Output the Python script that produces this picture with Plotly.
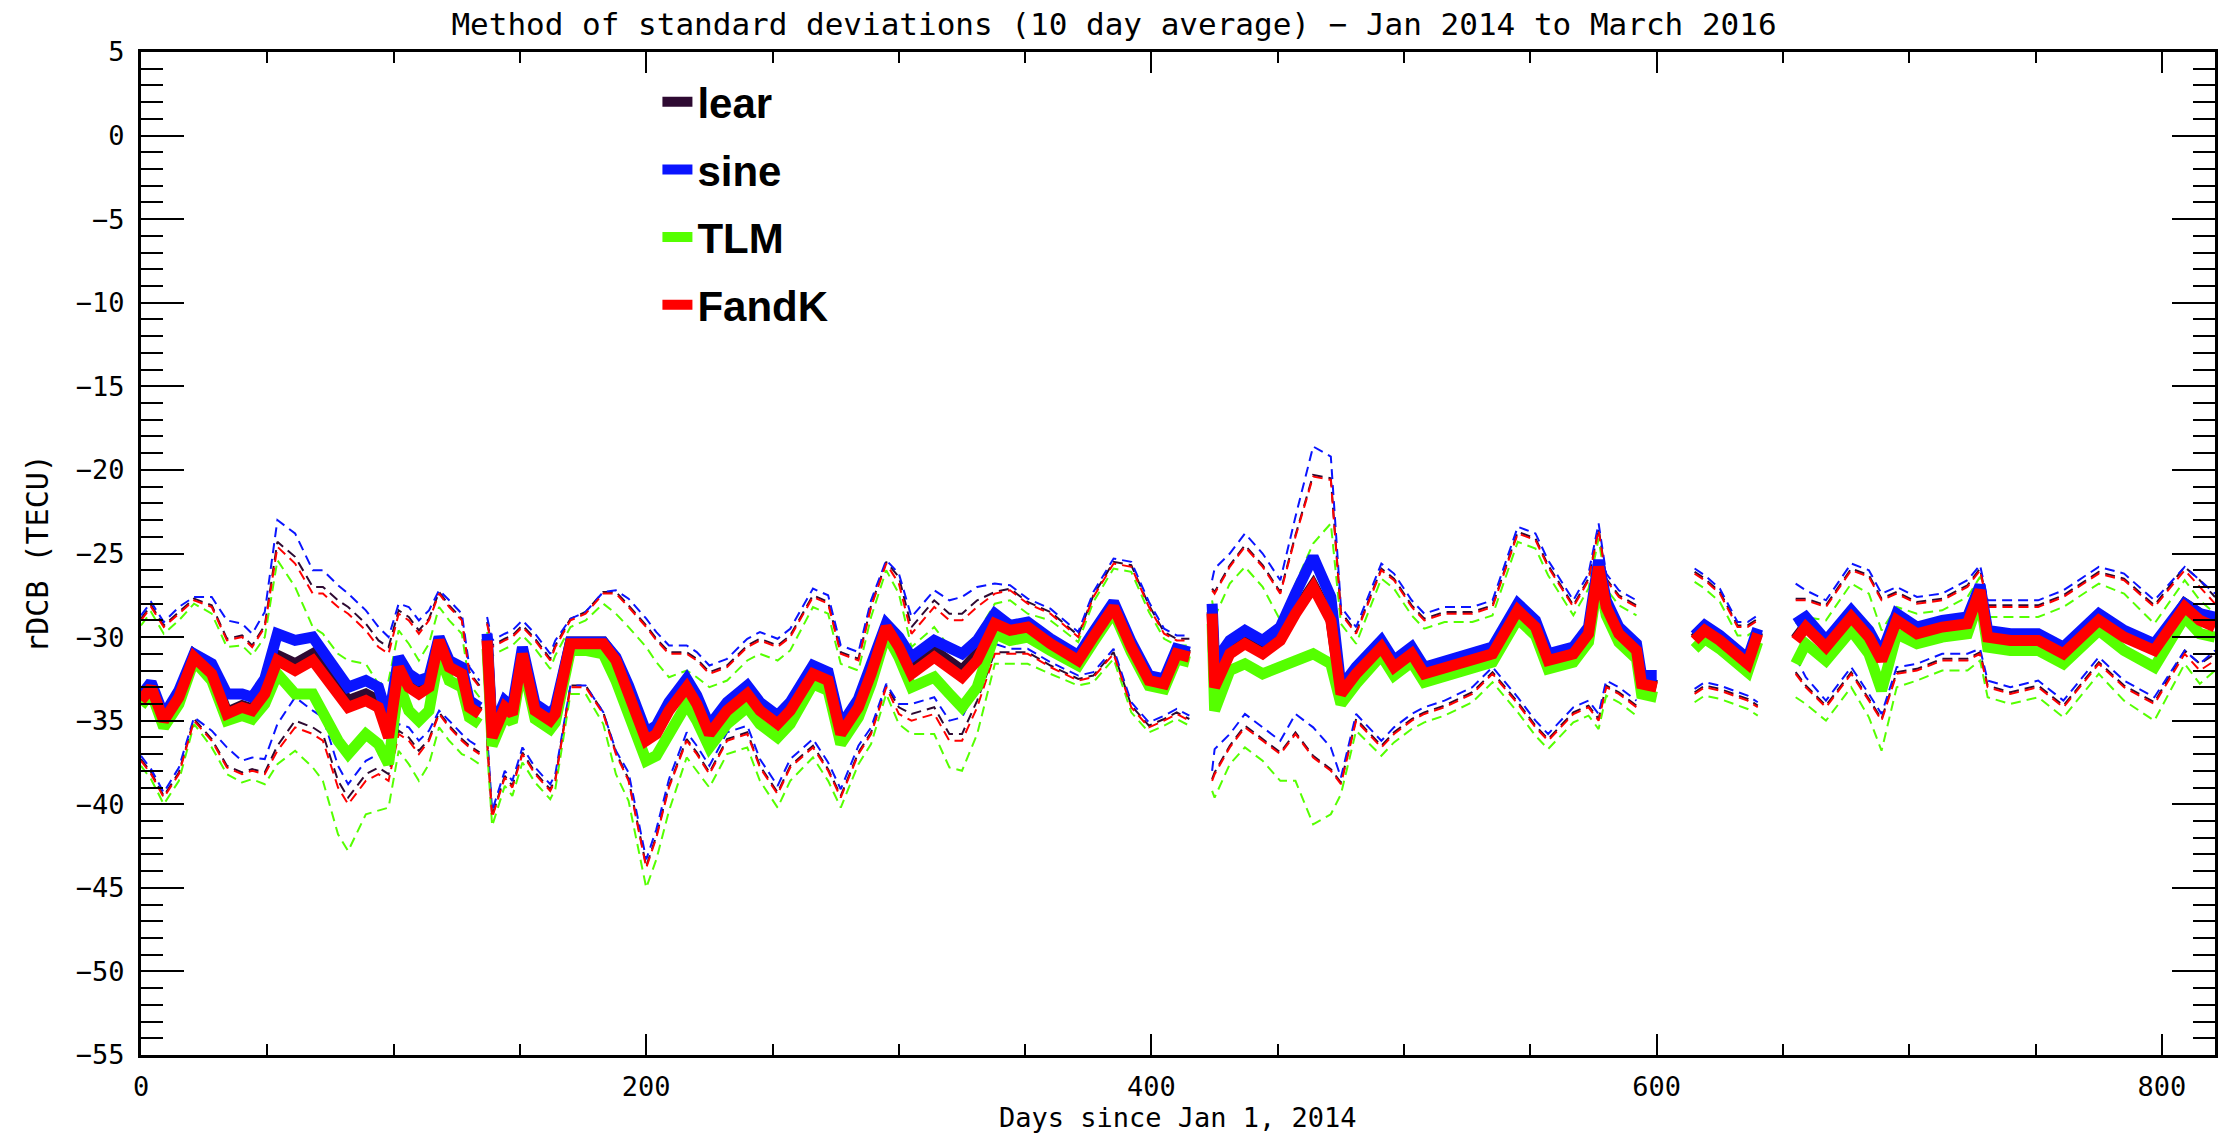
import plotly.graph_objects as go

G = None  # data gap

# Days since Jan 1, 2014 (G-rows mark gaps in the record)
days = [
    0, 4, 9, 15, 21, 28, 34, 40,
    44, 49, 54, 61, 68, 72, 78, 82,
    89, 94, 98, 102, 106, 110, 114, 118,
    122, 127, 130, 134,
    135.5,
    137, 139, 144, 147, 151, 156, 162, 164,
    170, 176, 183, 188, 193, 200, 204, 209,
    216, 220, 225, 232, 240, 245, 252, 257,
    266, 272, 277, 284, 289, 295, 300, 305,
    314, 320, 325, 331, 338, 344, 351, 360,
    371, 377, 385, 392, 399, 405, 410, 415,
    419.5,
    424, 425, 431, 437, 444, 451, 457, 464,
    471, 475, 481, 491, 496, 503, 508, 516,
    527, 535, 545, 552, 557, 567, 573, 577,
    580, 585, 592, 594, 600,
    607,
    615, 619, 625, 632, 636, 640,
    647,
    655, 659, 667, 677, 684, 689, 695, 703,
    713, 723, 728, 731, 740, 751, 761, 775,
    785, 797, 809, 815, 821,
]

fandk = [
    -33.8, -33.0, -35.0, -33.6, -31.2, -32.2, -34.6, -34.2,
    -34.4, -33.4, -31.4, -32.0, -31.4, -32.2, -33.4, -34.2,
    -33.8, -34.2, -36.0, -31.8, -33.0, -33.4, -33.0, -30.2,
    -31.8, -32.2, -34.2, -34.6,
    G,
    -30.2, -36.0, -34.2, -34.6, -31.0, -34.4, -35.0, -34.6,
    -30.4, -30.4, -30.4, -31.4, -33.4, -36.2, -35.8, -34.4,
    -33.0, -34.0, -35.8, -34.4, -33.4, -34.4, -35.2, -34.4,
    -32.2, -32.6, -35.8, -34.2, -32.2, -29.4, -30.6, -32.2,
    -31.2, -31.8, -32.4, -31.4, -29.2, -29.6, -29.4, -30.4,
    -31.4, -30.0, -28.2, -30.6, -32.6, -32.8, -31.0, -31.2,
    G,
    -28.6, -33.0, -31.0, -30.4, -31.0, -30.2, -28.6, -27.0,
    -29.0, -33.4, -32.2, -30.6, -31.8, -31.0, -32.2, -31.8,
    -31.4, -31.0, -28.4, -29.4, -31.4, -31.0, -29.8, -25.8,
    -28.2, -29.8, -30.8, -32.8, -33.0,
    G,
    -30.2, -29.6, -30.2, -31.2, -31.6, -29.8,
    G,
    -30.2, -29.4, -30.6, -28.8, -30.0, -31.4, -29.0, -29.8,
    -29.4, -29.2, -27.2, -30.0, -30.2, -30.2, -31.0, -29.0,
    -30.0, -30.8, -28.2, -29.0, -29.4,
]

sine = [
    -33.5, -32.7, -34.7, -33.2, -31.0, -31.6, -33.4, -33.4,
    -33.6, -32.5, -29.8, -30.2, -30.0, -30.8, -32.1, -33.0,
    -32.6, -33.0, -35.0, -31.2, -32.2, -32.6, -32.4, -30.0,
    -31.4, -31.8, -33.8, -34.2,
    G,
    -29.8, -35.6, -33.8, -34.2, -30.6, -34.0, -34.6, -34.2,
    -30.3, -30.3, -30.3, -31.2, -32.9, -35.7, -35.3, -33.9,
    -32.5, -33.5, -35.3, -33.9, -32.9, -33.9, -34.7, -33.9,
    -31.7, -32.1, -35.3, -33.7, -31.8, -29.2, -30.0, -31.2,
    -30.2, -30.6, -31.0, -30.2, -28.6, -29.3, -29.1, -30.1,
    -31.1, -29.7, -27.9, -30.3, -32.3, -32.5, -30.7, -30.9,
    G,
    -28.0, -31.5, -30.2, -29.6, -30.2, -29.4, -27.4, -25.2,
    -27.6, -33.0, -31.8, -30.2, -31.4, -30.6, -31.8, -31.4,
    -31.0, -30.6, -28.0, -29.0, -31.0, -30.6, -29.4, -25.4,
    -27.8, -29.4, -30.4, -32.3, -32.3,
    G,
    -29.9, -29.3, -29.9, -30.9, -31.3, -29.5,
    G,
    -29.2, -28.8, -30.2, -28.4, -29.6, -31.0, -28.6, -29.4,
    -29.0, -28.8, -26.9, -29.6, -29.8, -29.8, -30.6, -28.6,
    -29.6, -30.4, -28.0, -28.6, -28.8,
]

tlm = [
    -34.1, -33.3, -35.4, -34.0, -31.4, -32.6, -35.0, -34.7,
    -34.9, -34.0, -32.2, -33.4, -33.4, -34.6, -36.2, -37.0,
    -35.8, -36.4, -37.6, -32.8, -34.4, -35.0, -34.4, -31.0,
    -32.6, -33.0, -34.8, -35.2,
    G,
    -30.7, -36.5, -34.7, -35.1, -31.5, -34.9, -35.5, -35.1,
    -30.8, -30.8, -31.0, -32.6, -34.6, -37.4, -37.1, -35.8,
    -34.0, -35.0, -36.6, -35.2, -34.2, -35.2, -36.0, -35.2,
    -32.8, -33.2, -36.4, -34.8, -32.8, -29.8, -31.2, -33.0,
    -32.4, -33.4, -34.2, -33.0, -29.8, -30.2, -30.0, -30.8,
    -31.7, -30.3, -28.5, -30.9, -32.9, -33.1, -31.3, -31.5,
    G,
    -29.2, -34.4, -32.0, -31.6, -32.2, -31.8, -31.4, -31.0,
    -31.6, -34.0, -32.8, -31.1, -32.3, -31.5, -32.7, -32.3,
    -31.9, -31.5, -28.9, -29.9, -31.9, -31.5, -30.3, -26.3,
    -28.7, -30.3, -31.3, -33.4, -33.6,
    G,
    -30.7, -30.1, -30.7, -31.7, -32.1, -30.3,
    G,
    -31.6, -30.4, -31.4, -29.6, -31.0, -33.2, -29.8, -30.4,
    -30.0, -29.8, -27.6, -30.6, -30.8, -30.8, -31.6, -29.6,
    -30.8, -31.8, -28.8, -29.8, -30.0,
]

lear = [
    -33.7, -32.9, -34.9, -33.5, -31.1, -32.1, -34.5, -34.1,
    -34.3, -33.3, -31.1, -31.6, -31.0, -31.8, -33.0, -33.8,
    -33.4, -33.8, -35.6, -31.6, -32.8, -33.2, -32.9, -30.1,
    -31.7, -32.1, -34.1, -34.5,
    G,
    -30.1, -35.9, -34.1, -34.5, -30.9, -34.3, -34.9, -34.5,
    -30.3, -30.3, -30.3, -31.3, -33.3, -36.1, -35.7, -34.3,
    -32.9, -33.9, -35.7, -34.3, -33.3, -34.3, -35.1, -34.3,
    -32.1, -32.5, -35.7, -34.1, -32.1, -29.3, -30.2, -31.8,
    -30.8, -31.4, -32.0, -31.0, -29.1, -29.5, -29.3, -30.3,
    -31.3, -29.9, -28.1, -30.5, -32.5, -32.7, -30.9, -31.1,
    G,
    -28.5, -32.9, -30.9, -30.3, -30.9, -30.1, -28.5, -26.9,
    -28.9, -33.3, -32.1, -30.5, -31.7, -30.9, -32.1, -31.7,
    -31.3, -30.9, -28.3, -29.3, -31.3, -30.9, -29.7, -25.7,
    -28.1, -29.7, -30.7, -32.7, -32.9,
    G,
    -30.1, -29.5, -30.1, -31.1, -31.5, -29.7,
    G,
    -30.1, -29.3, -30.5, -28.7, -29.9, -31.3, -28.9, -29.7,
    -29.3, -29.1, -27.1, -29.9, -30.1, -30.1, -30.9, -28.9,
    -29.9, -30.7, -28.0, -28.6, -29.0,
]

# standard deviation above / below the 10-day mean
sd_hi = [
    4.8, 4.8, 5.6, 5.0, 3.4, 4.0, 4.4, 4.2,
    3.8, 4.0, 6.8, 6.4, 4.0, 4.8, 5.2, 5.6,
    4.2, 3.6, 5.0, 3.2, 4.0, 3.6, 4.0, 2.8,
    3.6, 3.2, 2.0, 1.6,
    G,
    1.0, 5.4, 4.0, 4.6, 1.6, 4.2, 3.6, 4.0,
    1.4, 1.8, 3.0, 4.0, 5.2, 6.8, 5.6, 3.4,
    2.0, 2.6, 3.6, 2.6, 2.8, 4.2, 4.6, 4.4,
    4.6, 4.6, 4.8, 2.8, 4.0, 3.8, 3.8, 2.4,
    3.0, 2.8, 3.4, 3.2, 1.8, 2.4, 1.4, 1.8,
    1.4, 2.4, 2.6, 4.8, 4.4, 3.0, 0.8, 1.0,
    G,
    1.4, 5.6, 5.2, 5.8, 5.2, 2.8, 4.6, 6.6,
    8.4, 4.8, 2.4, 4.6, 5.2, 2.8, 3.2, 3.2,
    2.8, 2.8, 4.6, 5.2, 5.6, 2.8, 3.2, 2.2,
    1.6, 2.2, 2.6, G, G,
    G,
    4.0, 3.0, 2.8, 1.8, 2.2, 0.8,
    G,
    2.4, 1.6, 2.4, 2.8, 3.6, 3.6, 1.6, 1.8,
    1.6, 2.2, 1.2, 1.8, 2.0, 2.0, 3.4, 2.8,
    3.4, 2.6, 2.2, 2.0, 1.4,
]

sd_lo = [
    3.6, 5.2, 4.6, 4.6, 3.8, 4.0, 3.2, 4.0,
    3.6, 4.8, 5.4, 3.4, 4.4, 4.0, 5.6, 5.8,
    4.8, 4.0, 2.6, 4.0, 3.2, 3.6, 3.2, 4.4,
    3.6, 4.0, 2.4, 2.4,
    G,
    6.0, 4.8, 4.2, 4.4, 6.0, 3.8, 4.2, 4.0,
    2.6, 2.6, 4.2, 5.6, 5.2, 7.6, 6.2, 4.6,
    3.2, 3.0, 2.4, 1.8, 2.4, 3.4, 4.2, 3.4,
    4.4, 5.4, 3.8, 2.8, 3.6, 3.6, 4.0, 2.8,
    3.4, 4.4, 3.8, 2.8, 1.8, 1.4, 1.6, 1.4,
    1.2, 2.4, 2.8, 3.6, 2.8, 2.2, 3.6, 3.8,
    G,
    10.0, 5.2, 5.6, 5.0, 5.2, 6.8, 7.2, 10.2,
    9.0, 5.4, 2.8, 6.0, 4.0, 4.0, 2.4, 2.4,
    2.0, 1.2, 5.6, 6.0, 4.8, 3.6, 4.4, 9.2,
    4.8, 3.6, 3.4, G, G,
    G,
    3.2, 3.4, 3.0, 2.4, 2.2, 4.4,
    G,
    2.0, 3.6, 3.6, 3.4, 3.8, 3.6, 3.2, 2.2,
    2.0, 2.2, 3.8, 3.0, 3.2, 2.8, 3.2, 2.6,
    3.0, 3.2, 2.8, 3.0, 2.0,
]

for arr in (fandk, sine, tlm, lear, sd_hi, sd_lo):
    assert len(arr) == len(days), len(arr)


def band(mean, sd, sign):
    return [None if (m is None or s is None) else round(m + sign * s, 2)
            for m, s in zip(mean, sd)]


methods = [
    ("lear", lear, "#2e0a32"),
    ("sine", sine, "#0a14ff"),
    ("TLM", tlm, "#55ff00"),
    ("FandK", fandk, "#ff0000"),
]

fig = go.Figure()
# dashed +/- standard deviation curves
for name, mean, color in methods:
    for sd, sgn in ((sd_hi, 1), (sd_lo, -1)):
        fig.add_trace(go.Scatter(
            x=days, y=band(mean, sd, sgn), mode="lines",
            line=dict(color=color, width=2, dash="10px,6px"),
            showlegend=False, hoverinfo="skip", legendgroup=name,
            connectgaps=False))
# thick mean curves
for name, mean, color in methods:
    fig.add_trace(go.Scatter(
        x=days, y=mean, mode="lines", name=name,
        line=dict(color=color, width=11), legendgroup=name,
        connectgaps=False))

MONO = "DejaVu Sans Mono"

fig.update_layout(
    width=2228, height=1136,
    margin=dict(l=141, r=10, t=52, b=81),
    paper_bgcolor="white", plot_bgcolor="white",
    title=dict(
        text="Method of standard deviations (10 day average) \u2212 Jan 2014 to March 2016",
        x=0.5, xanchor="center", xref="container",
        y=1 - 24 / 1136, yanchor="middle", yref="container",
        font=dict(family=MONO, size=31, color="black")),
    legend=dict(
        x=0.249, y=0.984, xanchor="left", yanchor="top",
        bgcolor="rgba(0,0,0,0)", borderwidth=0,
        font=dict(family="Liberation Sans", size=42, color="black", weight="bold"),
        tracegroupgap=10, traceorder="grouped"),
    showlegend=True,
    annotations=[dict(
        text="Days since Jan 1, 2014", xref="paper", yref="paper",
        x=0.5, y=-0.0628, xanchor="center", yanchor="middle",
        showarrow=False, font=dict(family=MONO, size=27, color="black"))],
)

fig.update_xaxes(
    range=[0, 821], tickmode="linear", tick0=0, dtick=200,
    ticks="inside", ticklen=21, tickwidth=2, tickcolor="black",
    showline=True, linecolor="black", linewidth=3, mirror="ticks",
    showgrid=False, zeroline=False,
    minor=dict(tickmode="linear", tick0=0, dtick=50, ticks="inside",
               ticklen=11, tickwidth=2, tickcolor="black", showgrid=False),
    tickfont=dict(family=MONO, size=27, color="black"),
    ticklabelstandoff=6,
)

fig.update_yaxes(
    range=[-55, 5], tickmode="linear", tick0=0, dtick=5,
    ticks="inside", ticklen=43, tickwidth=2, tickcolor="black",
    showline=True, linecolor="black", linewidth=3, mirror="ticks",
    showgrid=False, zeroline=False,
    minor=dict(tickmode="linear", tick0=0, dtick=1, ticks="inside",
               ticklen=22, tickwidth=2, tickcolor="black", showgrid=False),
    tickfont=dict(family=MONO, size=27, color="black"),
    ticklabelstandoff=8,
    title=dict(text="rDCB (TECU)",
               font=dict(family=MONO, size=30, color="black"), standoff=19),
)

# remove the browser's default 8px body margin so the figure fills the window
fig.write_html("out.html",
               config={"displayModeBar": False},
               post_script="document.body.style.margin='0';document.body.style.overflow='hidden';")
